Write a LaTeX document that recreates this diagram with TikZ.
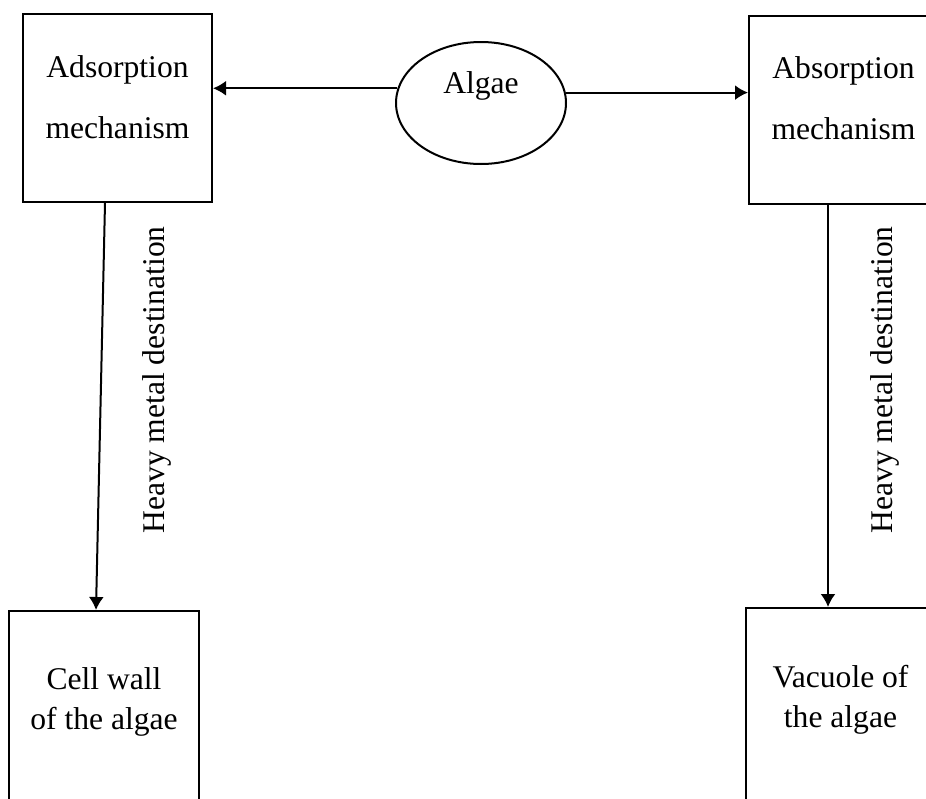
\documentclass[tikz,border=0pt]{standalone}
\usepackage{fontspec}
\setmainfont{Liberation Serif}
\usetikzlibrary{arrows.meta}
\usetikzlibrary{shapes.geometric}

\begin{document}
\begin{tikzpicture}[x=0.5pt,y=-0.5pt,line width=1pt]
		\tikzstyle{mech}=[draw,shape=rectangle,minimum width=94.5pt,minimum height=94pt,align=center,font=\fontsize{15.8}{30.5}\selectfont,text depth=11pt]
		\tikzstyle{dest}=[draw,shape=rectangle,minimum width=95pt,minimum height=98pt,align=center,font=\fontsize{15.8}{20}\selectfont,text depth=10pt]
		\tikzstyle{arr}=[-{Latex[length=6.5pt,width=7.5pt]}]
		\tikzstyle{side}=[rotate=90,font=\fontsize{15.8}{19}\selectfont]
		
		\useasboundingbox (0,0) rectangle (926,798);
		\clip (0,0) rectangle (926,798);
		
		\node[draw,shape=ellipse,minimum width=85pt,minimum height=61pt,inner sep=0pt,font=\fontsize{15.8}{19}\selectfont,text depth=20pt](algae) at (481,103){Algae};
		
		\node[mech](adsorb) at (117.5,108){Adsorption\\mechanism};
		\node[mech](absorb) at (843.5,109.5){Absorption\\mechanism};
		
		\node[dest](wall) at (104,709){Cell wall\\of the algae};
		\node[dest](vacuole) at (840.5,706){Vacuole of\\the algae};
		
		\draw[arr] (algae.170) -- (algae.170 -| adsorb.east);
		\draw[arr] (algae.7) -- (algae.7 -| absorb.west);
		
		\draw[arr] ([xshift=-6.25pt]adsorb.south) -- ([xshift=-4pt]wall.north);
		\draw[arr] ([xshift=-7.75pt]absorb.south) -- ([xshift=-6.25pt]vacuole.north);
		
		\node[side](leftlab) at (157,380){Heavy metal destination};
		\node[side](rightlab) at (885,380){Heavy metal destination};
\end{tikzpicture}
\end{document}
